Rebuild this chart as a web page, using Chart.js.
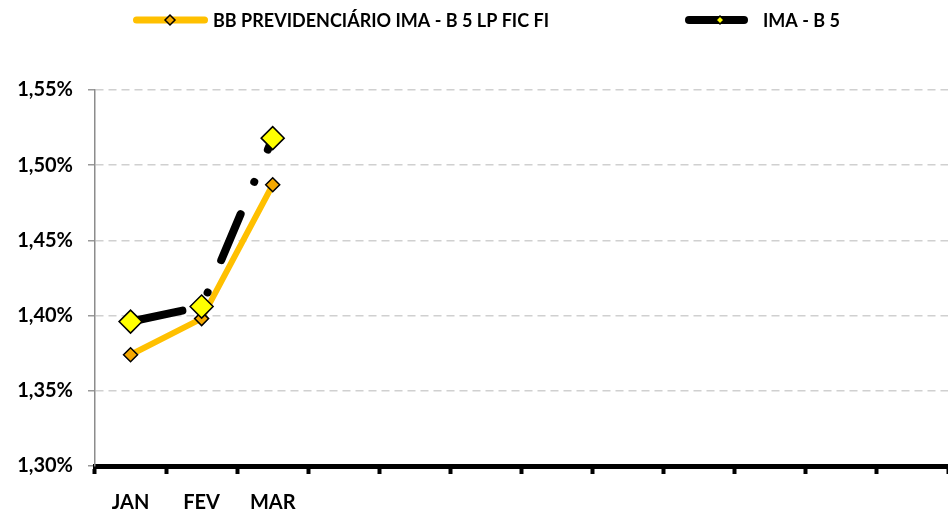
<!DOCTYPE html>
<html>
<head>
<meta charset="utf-8">
<script src="https://cdn.jsdelivr.net/npm/chart.js@4.4.0/dist/chart.umd.min.js"></script>
<style>
  html, body { margin: 0; padding: 0; background: #fff; }
</style>
</head>
<body>
<canvas id="myChart" width="948" height="513"></canvas>
<script>
const months = ["JAN", "FEV", "MAR", "", "", "", "", "", "", "", "", ""];
const fundValues = [1.374, 1.398, 1.487];
const indexValues = [1.396, 1.406, 1.518];
const yTicks = [1.30, 1.35, 1.40, 1.45, 1.50, 1.55];
const seriesNames = ["BB PREVIDENCIÁRIO IMA - B 5 LP FIC FI", "IMA - B 5"];

const FONT = "Lato, 'Open Sans', sans-serif";

// legend drawn by hand: line + diamond + label, like the excel one
const legendRow = {
  id: "legendRow",
  afterDraw(chart, args, opts) {
    const ctx = chart.ctx;
    ctx.save();
    chart.data.datasets.forEach(function (ds, i) {
      const it = opts.items[i];
      const y = opts.y;
      ctx.lineCap = "round";
      ctx.strokeStyle = ds.borderColor;
      ctx.lineWidth = it.lineWidth;
      ctx.beginPath();
      ctx.moveTo(it.x + it.lineWidth / 2, y);
      ctx.lineTo(it.x + it.len - it.lineWidth / 2, y);
      ctx.stroke();

      const cx = it.x + it.markAt;
      const r = it.mark;
      ctx.beginPath();
      ctx.moveTo(cx - r, y);
      ctx.lineTo(cx, y - r);
      ctx.lineTo(cx + r, y);
      ctx.lineTo(cx, y + r);
      ctx.closePath();
      ctx.fillStyle = ds.pointBackgroundColor;
      ctx.fill();
      ctx.lineWidth = 1.5;
      ctx.strokeStyle = "#000";
      ctx.stroke();

      ctx.fillStyle = "#000";
      ctx.font = "bold " + opts.fontSize + "px " + FONT;
      ctx.textBaseline = "middle";
      ctx.textAlign = "left";
      ctx.fillText(ds.label, it.x + it.len + it.gap, y + 1);
    });
    ctx.restore();
  },
};

const data = {
  labels: months,
  datasets: [
    {
      label: seriesNames[0],
      data: fundValues,
      borderColor: "#FFC000",
      borderWidth: 6,
      pointStyle: "rectRot",
      pointRadius: 7,
      pointHoverRadius: 7,
      pointBackgroundColor: "#F5A800",
      pointBorderColor: "#000",
      pointBorderWidth: 1.5,
      tension: 0,
      order: 1,
    },
    {
      label: seriesNames[1],
      data: indexValues,
      borderColor: "#000",
      borderWidth: 8,
      borderCapStyle: "round",
      borderDash: [50, 35, 0.01, 35],
      borderDashOffset: -3,
      pointStyle: "rectRot",
      pointRadius: 11.5,
      pointHoverRadius: 11.5,
      pointBackgroundColor: "#FFFF00",
      pointBorderColor: "#000",
      pointBorderWidth: 1.5,
      tension: 0,
      order: 0,
    },
  ],
};

const config = {
  type: "line",
  data: data,
  plugins: [legendRow],
  options: {
    responsive: false,
    animation: false,
    devicePixelRatio: 1,
    layout: {
      autoPadding: false,
      padding: { top: 90, right: 0, bottom: 0, left: 0 },
    },
    plugins: {
      legend: { display: false },
      tooltip: { enabled: false },
      legendRow: {
        y: 20,
        fontSize: 18,
        items: [
          { x: 133, len: 75, gap: 5, lineWidth: 7, mark: 5, markAt: 37 },
          { x: 685, len: 63, gap: 15, lineWidth: 8, mark: 4, markAt: 35 },
        ],
      },
    },
    scales: {
      x: {
        offset: true,
        afterFit: function (scale) {
          scale.height = 47;
          scale.paddingLeft = 0;
          scale.paddingRight = 0;
        },
        grid: {
          offset: true,
          drawOnChartArea: false,
          drawTicks: true,
          tickLength: 8,
          tickColor: "#000",
          tickWidth: 4,
        },
        border: { display: true, color: "#000", width: 5 },
        ticks: {
          color: "#000",
          padding: 17,
          maxRotation: 0,
          autoSkip: false,
          font: { family: FONT, size: 20, weight: "bold" },
        },
      },
      y: {
        min: yTicks[0],
        max: yTicks[yTicks.length - 1],
        afterBuildTicks: function (scale) {
          scale.ticks = yTicks.map(function (v) {
            return { value: v };
          });
        },
        afterFit: function (scale) {
          scale.width = 95;
          scale.paddingTop = 0;
          scale.paddingBottom = 0;
        },
        grid: {
          color: "#D0D0D0",
          lineWidth: 1.5,
          tickLength: 7,
          tickColor: "#999",
          tickWidth: 1.5,
        },
        border: { display: true, color: "#8C8C8C", width: 1.5, dash: [8, 5] },
        ticks: {
          color: "#000",
          padding: 15,
          font: { family: FONT, size: 20, weight: "bold" },
          callback: function (value) {
            return value.toFixed(2).replace(".", ",") + "%";
          },
        },
      },
    },
  },
};

const myChart = new Chart(document.getElementById("myChart"), config);
</script>
</body>
</html>
